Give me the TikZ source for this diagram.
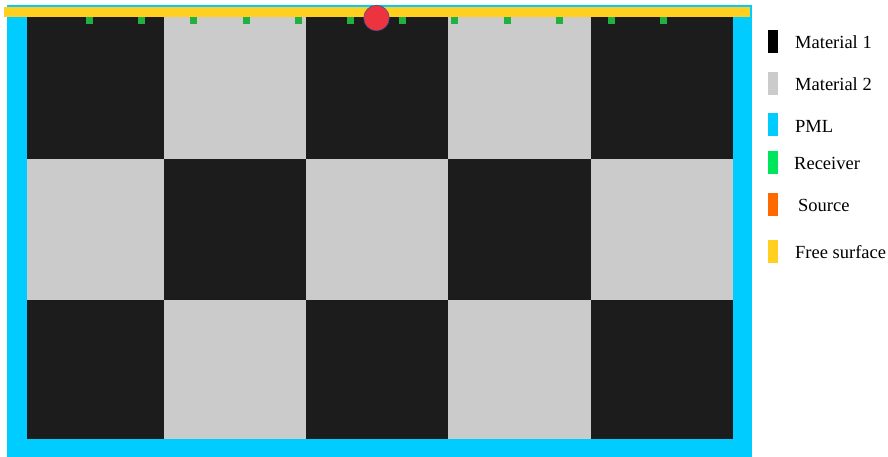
\documentclass[tikz,border=0pt]{standalone}
\usepackage{fontspec}
\setmainfont{Liberation Serif}
\definecolor{matA}{HTML}{1C1C1C}
\definecolor{matB}{HTML}{CBCBCB}
\definecolor{pml}{HTML}{00CCFF}
\definecolor{fsurf}{HTML}{FFD020}
\definecolor{rcv}{HTML}{22B040}
\definecolor{rcvleg}{HTML}{00E65C}
\definecolor{srcleg}{HTML}{FF6A00}
\definecolor{srcdot}{HTML}{EE3340}
\begin{document}
\begin{tikzpicture}[x=1pt,y=-1pt,
  swatch/.style={draw=none,minimum width=10pt,minimum height=23pt,inner sep=0pt},
  legtext/.style={anchor=west,inner sep=0pt,font=\fontsize{18.5}{21}\selectfont},
  rcvbox/.style={fill=rcv,draw=none,minimum size=7pt,inner sep=0pt}]
\useasboundingbox (0,0) rectangle (888,457);
\fill[white] (0,0) rectangle (888,457);
% PML
\fill[pml] (7,5) rectangle (752,457);
% checkerboard
\def\xs{{27,164,306,448.3,590.7,733}}
\def\ys{{17,159,299.5,439}}
\foreach \c in {0,...,4}{
  \foreach \r in {0,1,2}{
    \pgfmathtruncatemacro{\parity}{mod(\c+\r,2)}
    \ifnum\parity=0 \def\col{matA}\else\def\col{matB}\fi
    \pgfmathsetmacro{\xa}{\xs[\c]}
    \pgfmathsetmacro{\xb}{\xs[\c+1]}
    \pgfmathsetmacro{\ya}{\ys[\r]}
    \pgfmathsetmacro{\yb}{\ys[\r+1]}
    \fill[\col] (\xa,\ya) rectangle (\xb,\yb);
  }
}
% free surface
\fill[fsurf] (4,7) rectangle (750,17);
% receivers
\foreach \k in {0,...,11}{
  \node[rcvbox] (r\k) at ({89.5+\k*52.2},20.5) {};
}
% source
\node[circle,fill=srcdot,draw={rgb,255:red,70;green,80;blue,140},line width=0.6pt,minimum size=25.5pt,inner sep=0pt] (src) at (376.5,18) {};
% legend
\node[swatch,fill=black] (l1) at (773,41.5) {};
\node[legtext] (t1) at (795,42) {Material 1};
\node[swatch,fill=matB] (l2) at (773,83.5) {};
\node[legtext] (t2) at (795,84) {Material 2};
\node[swatch,fill=pml] (l3) at (773,125) {};
\node[legtext] (t3) at (795,126) {PML};
\node[swatch,fill=rcvleg] (l4) at (773,162.5) {};
\node[legtext] (t4) at (794,163) {Receiver};
\node[swatch,fill=srcleg] (l5) at (773,204.5) {};
\node[legtext] (t5) at (798,205) {Source};
\node[swatch,fill=fsurf] (l6) at (773,251) {};
\node[legtext] (t6) at (795,252) {Free surface};
\end{tikzpicture}
\end{document}
